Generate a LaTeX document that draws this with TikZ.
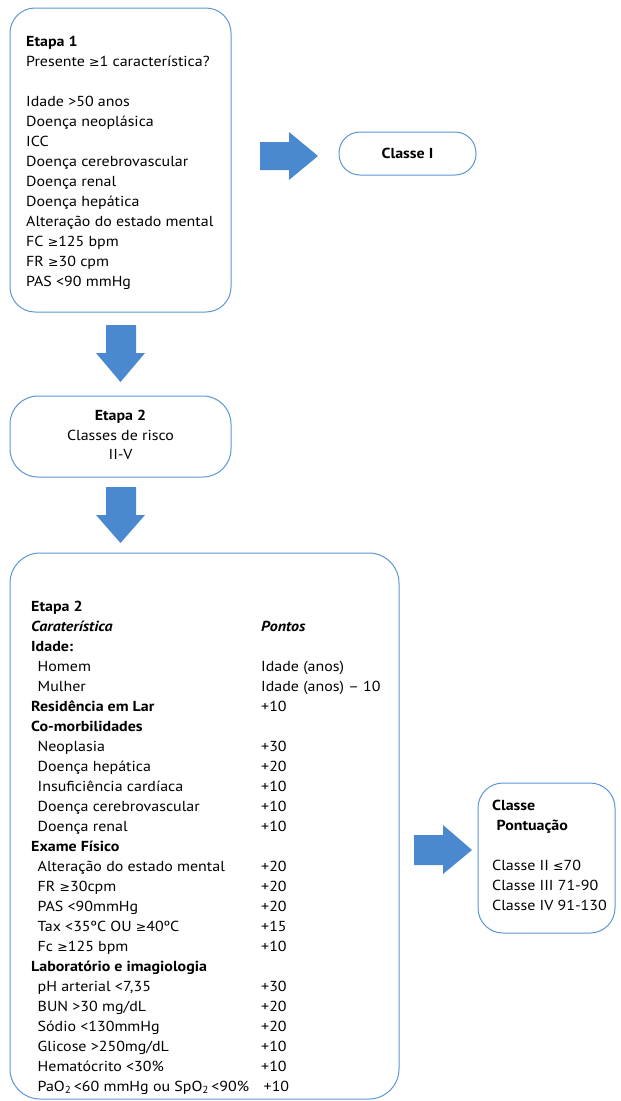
\documentclass[tikz,border=0pt]{standalone}
\usepackage{fontspec}
\setmainfont{PT Sans}[FakeStretch=1.1]
\newfontfamily\symfont{DejaVu Sans}
\newcommand\GEQ{{\symfont\fontsize{12.5}{20}\selectfont ≥}}
\newcommand\LEQ{{\symfont\fontsize{12.5}{20}\selectfont ≤}}
\definecolor{bordercol}{RGB}{91,150,213}
\definecolor{arrowcol}{RGB}{74,137,208}
\begin{document}
\begin{tikzpicture}[x=1pt,y=-1pt,
  box/.style={draw=bordercol,line width=1pt,rounded corners=25pt},
  blockarrow/.style={fill=arrowcol},
  txt/.style={anchor=base west,inner sep=0pt,font=\fontsize{14.5}{20}\selectfont},
  btxt/.style={txt,font=\fontsize{14.5}{20}\selectfont\bfseries},
  ctxt/.style={anchor=base,inner sep=0pt,font=\fontsize{14.5}{20}\selectfont}]
\useasboundingbox (0,0) rectangle (621,1101);
% boxes
\draw[box] (10,8) rectangle (231,312);
\draw[box,rounded corners=21pt] (339,132) rectangle (476,175);
\draw[box,rounded corners=28pt] (10,396) rectangle (231,477);
\draw[box,rounded corners=30pt] (10,553) rectangle (399,1099);
\draw[box] (478,783) rectangle (615,933);
% block arrows
\fill[blockarrow] (260,142) -- (289,142) -- (289,132) -- (318,156) -- (289,180) -- (289,170) -- (260,170) -- cycle;
\fill[blockarrow] (106,325) -- (136,325) -- (136,353) -- (145,353) -- (120.5,382) -- (96,353) -- (106,353) -- cycle;
\fill[blockarrow] (106,487) -- (136,487) -- (136,515) -- (145,515) -- (120.5,543) -- (96,515) -- (106,515) -- cycle;
\fill[blockarrow] (414,835) -- (443,835) -- (443,825) -- (472,850) -- (443,874) -- (443,865) -- (414,865) -- cycle;
% Etapa 1
\node[btxt] (e1) at (26,46) {Etapa 1};
\node[txt] (e1q) at (26,66) {Presente \GEQ1 característica?};
\foreach \t [count=\i from 0] in {{Idade >50 anos},{Doença neoplásica},{ICC},{Doença cerebrovascular},{Doença renal},{Doença hepática},{Alteração do estado mental},{FC \GEQ125 bpm},{FR \GEQ30 cpm},{PAS <90 mmHg}}
  \node[txt] (e1l\i) at (26,106+20*\i) {\t};
% Classe I
\node[ctxt,font=\fontsize{14.5}{20}\selectfont\bfseries] (c1) at (407.5,158.5) {Classe I};
% Etapa 2 small
\node[ctxt,font=\fontsize{14.5}{20}\selectfont\bfseries] (e2a) at (120.5,420) {Etapa 2};
\node[ctxt] (e2b) at (120.5,440) {Classes de risco};
\node[ctxt] (e2c) at (120.5,459.5) {II-V};
% big table
\node[btxt] (t0) at (31,611.7) {Etapa 2};
\node[btxt,font=\fontsize{14.5}{20}\selectfont\bfseries\itshape] (t1) at (31,631.7) {Caraterística};
\node[btxt,font=\fontsize{14.5}{20}\selectfont\bfseries\itshape] (p1) at (261,631.7) {Pontos};
\foreach \t/\p/\k [count=\i from 2] in {
  {Idade:}/{}/b,
  {Homem}/{Idade (anos)}/n,
  {Mulher}/{Idade (anos) – 10}/n,
  {Residência em Lar}/{+10}/b,
  {Co-morbilidades}/{}/b,
  {Neoplasia}/{+30}/n,
  {Doença hepática}/{+20}/n,
  {Insuficiência cardíaca}/{+10}/n,
  {Doença cerebrovascular}/{+10}/n,
  {Doença renal}/{+10}/n,
  {Exame Físico}/{}/b,
  {Alteração do estado mental}/{+20}/n,
  {FR \GEQ30cpm}/{+20}/n,
  {PAS <90mmHg}/{+20}/n,
  {Tax <35ºC OU \GEQ40ºC}/{+15}/n,
  {Fc \GEQ125 bpm}/{+10}/n,
  {Laboratório e imagiologia}/{}/b,
  {pH arterial <7,35}/{+30}/n,
  {BUN >30 mg/dL}/{+20}/n,
  {Sódio <130mmHg}/{+20}/n,
  {Glicose >250mg/dL}/{+10}/n,
  {Hematócrito <30\%}/{+10}/n}
{
  \if b\k
    \node[btxt] (t\i) at (31,611.7+20*\i) {\t};
  \else
    \node[txt] (t\i) at (37.5,611.7+20*\i) {\t};
  \fi
  \node[txt] (p\i) at (261,611.7+20*\i) {\p};
}
\node[txt] (t24) at (37.5,1091.7) {PaO\textsubscript{2}\,<60 mmHg ou SpO\textsubscript{2}\,<90\%};
\node[txt] (p24) at (263.5,1091.7) {+10};
% right box
\node[btxt] (r0) at (492,810) {Classe};
\node[btxt] (r1) at (496.5,830) {Pontuação};
\node[txt] (r2) at (492,870) {Classe II \LEQ70};
\node[txt] (r3) at (492,890) {Classe III 71-90};
\node[txt] (r4) at (492,910) {Classe IV 91-130};
\end{tikzpicture}
\end{document}
